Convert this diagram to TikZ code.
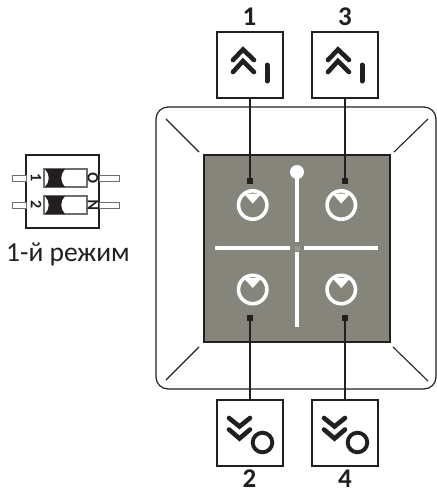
\documentclass[tikz,border=0pt]{standalone}
\usepackage{fontspec}
\setmainfont{Carlito}
\definecolor{panel}{HTML}{85857B}
\definecolor{ink}{HTML}{231F20}
\definecolor{slotline}{HTML}{6E6E6A}
\tikzset{
  x=1pt,y=-1pt,
  wire/.style={draw=ink,line width=1.1pt},
  keybox/.style={draw=ink,line width=1.2pt,fill=white,minimum size=66pt,inner sep=0pt},
  keylabel/.style={font=\bfseries\fontsize{27}{27}\selectfont,text=ink,inner sep=0pt,anchor=base},
  led/.style={draw=white,line width=3.6pt,circle,minimum size=28.4pt,inner sep=0pt},
  contact/.style={fill=ink,draw=none,minimum size=6.5pt,inner sep=0pt},
  groove/.style={draw=white,line width=3.8pt},
  chev/.style={draw=ink,line width=4.6pt,line cap=round,line join=miter},
  pin/.style={draw=slotline,line width=1pt,fill=white},
  dipmark/.style={font=\bfseries\fontsize{16}{16}\selectfont,text=ink,inner sep=0pt},
  slot/.style={draw=slotline,line width=1.3pt,fill=white,minimum width=43pt,minimum height=18pt,inner sep=0pt}
}
\begin{document}
\begin{tikzpicture}
\useasboundingbox (0,0) rectangle (437,491);
\fill[white] (0,0) rectangle (437,491);
% housing
\draw[ink,line width=1.2pt,rounded corners=12pt] (156,107) rectangle (436,389);
\coordinate (tl1) at (166,119); \coordinate (tl2) at (199,152);
\coordinate (tr1) at (428,119); \coordinate (tr2) at (394,152);
\coordinate (bl1) at (166,380); \coordinate (bl2) at (199,347);
\coordinate (br1) at (428,381); \coordinate (br2) at (393,347);
\draw[wire] (tl1)--(tl2) (tr1)--(tr2) (bl1)--(bl2) (br1)--(br2);
% panel
\node[draw=ink,line width=1.6pt,fill=panel,minimum width=186pt,minimum height=187pt,inner sep=0pt] (panel) at (297,248.5) {};
\draw[groove] (297,172)--(297,242);
\draw[groove] (297,252)--(297,327);
\draw[groove] (215,248)--(290,248);
\draw[groove] (304,248)--(378,248);
\fill[panel!85!white] (294.5,245.5) rectangle (299.5,250.5);
\node[circle,fill=white,minimum size=14pt,inner sep=0pt] (knob) at (297,172) {};
% leds
\foreach \n/\x/\y in {a/252.7/205,b/341.3/205,c/252.7/289.5,d/341.3/289.5}{
  \node[led] (led\n) at (\x,\y) {};
  \fill[white] (\x-9,\y-11.5) -- (\x,\y-1.5) -- (\x+9,\y-11.5) -- cycle;
}
% keys
\node[keybox] (k1) at (250,65) {};
\node[keybox] (k3) at (345,65) {};
\node[keybox] (k2) at (250,433) {};
\node[keybox] (k4) at (345,433) {};
\node[keylabel] (l1) at (249.5,25) {1};
\node[keylabel] (l3) at (345,25) {3};
\node[keylabel] (l2) at (249.5,487) {2};
\node[keylabel] (l4) at (345,487) {4};
\node[contact] (c1) at (250,181) {};
\node[contact] (c3) at (345,181) {};
\node[contact] (c2) at (250,318) {};
\node[contact] (c4) at (345,318) {};
\draw[wire] (k1.south)--(c1) (k3.south)--(c3) (k2.north)--(c2) (k4.north)--(c4);
% key glyphs
\foreach \dx in {0,95}{
  \draw[chev] (233+\dx,60)--(243+\dx,49.5)--(254+\dx,60);
  \draw[chev] (233+\dx,72)--(243+\dx,61)--(254+\dx,72);
  \draw[ink,line width=5pt,line cap=round] (267+\dx,65)--(267+\dx,81);
  \draw[chev] (229+\dx,418)--(239.5+\dx,426.5)--(250+\dx,418);
  \draw[chev] (229+\dx,429.5)--(239.5+\dx,438.5)--(250+\dx,429.5);
  \draw[ink,line width=3.9pt] (262.5+\dx,442.5) circle (9.8pt);
}
% DIP switch
\node[draw=ink,line width=1.2pt,fill=white,minimum width=73pt,minimum height=73pt,inner sep=0pt] (dip) at (62.5,191.5) {};
\foreach \n/\y/\m/\r in {a/178/1/O,b/205/2/N}{
  \draw[pin] (12,\y-3)--(26,\y-3)--(26,\y+3)--(12,\y+3)--cycle;
  \draw[pin] (99,\y-3)--(119,\y-3)--(119,\y+3)--(99,\y+3)--cycle;
  \node[slot] (s\n) at (65.5,\y) {};
  \fill[ink] (45,\y-9)--(65,\y-9) .. controls (60,\y-4) and (60,\y+4) .. (65,\y+9)--(45,\y+9) .. controls (50,\y+4) and (50,\y-4) .. (45,\y-9)--cycle;
  \node[dipmark,rotate=-90] at (36,\y) {\m};
  \node[dipmark,rotate=90] at (93,\y) {\r};
}
\node[inner sep=0pt,text=ink,font=\fontsize{27.5}{27.5}\selectfont,anchor=base] (mode) at (68,261) {1-й режим};
\end{tikzpicture}
\end{document}
